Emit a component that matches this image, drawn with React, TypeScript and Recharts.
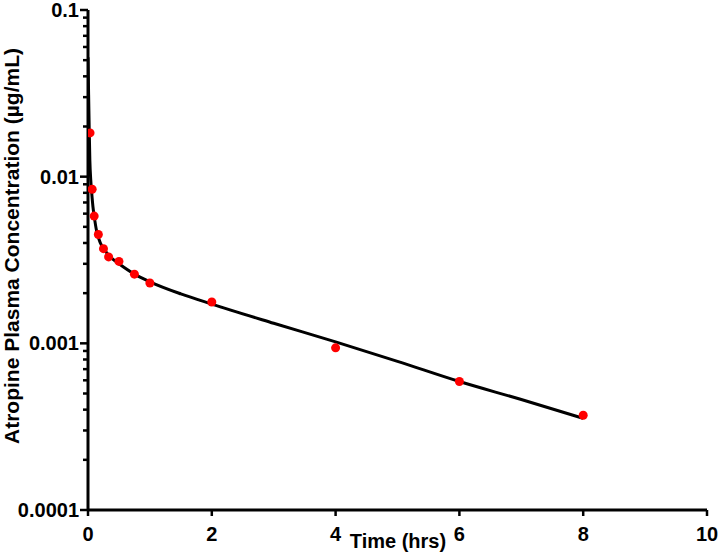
import React from 'react';
import { ComposedChart, Line, Scatter, XAxis, YAxis } from 'recharts';

// Fitted concentration curve (hours, µg/mL)
const curveTime = [0, 0.005, 0.01, 0.02, 0.03, 0.045, 0.06, 0.08, 0.1, 0.14, 0.2, 0.3, 0.4, 0.5, 0.75, 1, 1.5, 2, 3, 4, 5, 6, 7, 8];
const curveConc = [0.052, 0.04, 0.031, 0.019, 0.0125, 0.0095, 0.008, 0.0066, 0.0058, 0.0047, 0.004, 0.0035, 0.0032, 0.003, 0.0026, 0.00234, 0.00198, 0.00172, 0.00132, 0.00102, 0.00078, 0.00059, 0.00046, 0.000355];

// Observed concentrations
const obsTime = [0.033, 0.067, 0.1, 0.167, 0.25, 0.333, 0.5, 0.75, 1, 2, 4, 6, 8];
const obsConc = [0.0183, 0.0084, 0.0058, 0.0045, 0.0037, 0.0033, 0.0031, 0.0026, 0.0023, 0.00177, 0.00094, 0.00059, 0.00037];

const xTicks = [0, 2, 4, 6, 8, 10];
const yMajorTicks = [0.0001, 0.001, 0.01, 0.1];
const yTickLabels = ['0.0001', '0.001', '0.01', '0.1'];

const curveData = curveTime.map((t, i) => ({ t, c: curveConc[i] }));
const obsData = obsTime.map((t, i) => ({ t, c: obsConc[i] }));

const yTicks: number[] = [];
yMajorTicks.forEach((d, i) => {
  yTicks.push(d);
  if (i < yMajorTicks.length - 1) {
    for (let k = 2; k <= 9; k++) yTicks.push(+(d * k).toPrecision(3));
  }
});

const FONT = '"Liberation Sans", Arial, sans-serif';

const YTick = (props: any) => {
  const { x, y, payload } = props;
  const idx = yMajorTicks.findIndex((m) => Math.abs(m - payload.value) / m < 1e-6);
  const major = idx >= 0;
  return (
    <g>
      <line x1={x - (major ? 8 : 5)} x2={x} y1={y} y2={y} stroke="#000" strokeWidth={2.5} />
      {major && (
        <text x={x - 9} y={y} dy={7} textAnchor="end" fontFamily={FONT} fontWeight="bold" fontSize={20} fill="#000">
          {yTickLabels[idx]}
        </text>
      )}
    </g>
  );
};

const XTick = (props: any) => {
  const { x, y, payload } = props;
  return (
    <text x={x} y={y} dy={23} textAnchor="middle" fontFamily={FONT} fontWeight="bold" fontSize={20} fill="#000">
      {payload.value}
    </text>
  );
};

const YTitle = () => (
  <text
    x={19}
    y={246}
    transform="rotate(-90 19 246)"
    textAnchor="middle"
    fontFamily={FONT}
    fontWeight="bold"
    fontSize={21}
    fill="#000"
  >
    Atropine Plasma Concentration (µg/mL)
  </text>
);

const XTitle = () => (
  <text x={398} y={548} textAnchor="middle" fontFamily={FONT} fontWeight="bold" fontSize={20} fill="#000">
    Time (hrs)
  </text>
);

export default function App() {
  return (
    <div style={{ position: 'absolute', left: 0, top: 0, background: '#fff' }}>
      <ComposedChart width={720} height={555} margin={{ top: 10, right: 13, bottom: 0, left: 0 }}>
        <XAxis
          type="number"
          dataKey="t"
          domain={[0, 10]}
          ticks={xTicks}
          allowDataOverflow
          height={45}
          axisLine={{ stroke: '#000', strokeWidth: 3 }}
          tickLine={{ stroke: '#000', strokeWidth: 2.5 }}
          tickSize={6}
          tick={<XTick />}
          label={<XTitle />}
        />
        <YAxis
          type="number"
          scale="log"
          domain={[0.0001, 0.1]}
          ticks={yTicks}
          allowDataOverflow
          width={88}
          axisLine={{ stroke: '#000', strokeWidth: 3 }}
          tickLine={false}
          tickSize={0}
          tickMargin={0}
          interval={0}
          tick={<YTick />}
          label={<YTitle />}
        />
        <Line
          data={curveData}
          dataKey="c"
          type="monotone"
          stroke="#000"
          strokeWidth={3}
          dot={false}
          activeDot={false}
          isAnimationActive={false}
        />
        <Scatter
          data={obsData}
          dataKey="c"
          fill="#ff0000"
          shape={(p: any) => <circle cx={p.cx} cy={p.cy} r={4.5} fill="#ff0000" />}
          isAnimationActive={false}
        />
      </ComposedChart>
    </div>
  );
}
